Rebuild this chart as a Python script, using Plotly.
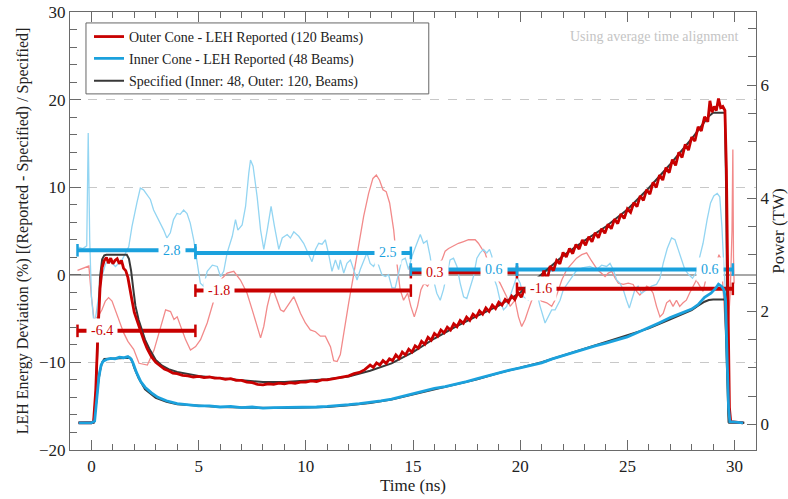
import plotly.graph_objects as go

# ---------------- data ----------------
# Outer cone specified power (TW)
t_outer_spec = [-0.6, 0.1, 0.2, 0.3, 0.4, 0.5, 0.6, 0.7, 1.65, 1.75, 1.85, 1.95, 2.05, 2.2, 2.35, 2.5, 2.7,
                3.0, 3.3, 3.6, 4.0, 4.5, 5.0, 6.0, 7.0, 8.0, 9.0, 10.0, 11.0, 12.0, 13.0, 14.0, 15.0, 16.0,
                17.0, 18.0, 19.0, 20.0, 21.0, 22.0, 23.0, 24.0, 25.0, 26.0, 27.0, 28.0, 28.5, 28.8, 29.0,
                29.55, 29.6, 29.65, 29.7, 29.75, 30.45]
p_outer_spec = [0.03, 0.03, 0.5, 1.7, 2.6, 2.92, 2.99, 3.0, 3.0, 2.93, 2.72, 2.4, 2.1, 1.85, 1.66, 1.5, 1.34,
                1.14, 1.04, 0.98, 0.93, 0.89, 0.86, 0.82, 0.78, 0.75, 0.75, 0.77, 0.8, 0.85, 0.95, 1.08, 1.28, 1.52,
                1.73, 1.92, 2.1, 2.33, 2.66, 2.98, 3.25, 3.5, 3.8, 4.18, 4.6, 5.05, 5.3, 5.45, 5.51,
                5.51, 4.3, 2.0, 0.4, 0.03, 0.03]

# Inner cone specified power (TW)
t_inner_spec = [-0.6, 0.1, 0.2, 0.3, 0.4, 0.5, 0.6, 1.8, 1.9, 2.0, 2.2, 2.5, 3.0, 3.5, 4.0, 5.0, 6.0, 7.0, 8.0,
                9.0, 10.0, 11.0, 12.0, 13.0, 14.0, 15.0, 16.0, 17.0, 18.0, 19.0, 20.0, 21.0, 22.0, 23.0, 24.0,
                25.0, 26.0, 27.0, 27.5, 28.0, 28.3, 28.6, 28.8, 29.0, 29.55, 29.6, 29.65, 29.72, 30.45]
p_inner_spec = [0.03, 0.04, 0.3, 0.7, 0.95, 1.1, 1.16, 1.18, 1.12, 1.0, 0.82, 0.62, 0.47, 0.4, 0.36, 0.33, 0.31,
                0.3, 0.29, 0.29, 0.3, 0.31, 0.34, 0.38, 0.44, 0.53, 0.63, 0.71, 0.8, 0.91, 1.0, 1.1, 1.22, 1.34,
                1.45, 1.57, 1.7, 1.86, 1.94, 2.02, 2.1, 2.17, 2.2, 2.21, 2.21, 1.6, 0.6, 0.05, 0.03]

# Outer cone LEH reported power (TW)
t_outer_rep = [-0.6, 0.0, 0.1, 0.2, 0.3, 0.4, 0.5, 0.6, 0.7, 0.8, 0.9, 1.0, 1.1, 1.2, 1.3, 1.4, 1.5, 1.6, 1.7,
               1.8, 1.9, 2.0, 2.15, 2.3, 2.45, 2.6, 2.8, 3.0, 3.2, 3.4, 3.6, 3.8, 4.0, 4.25, 4.5, 4.75, 5.0, 5.25,
               5.5, 5.75, 6.0, 6.25, 6.5, 6.75, 7.0, 7.25, 7.5, 7.75, 8.0, 8.25, 8.5, 8.75, 9.0, 9.25, 9.5, 9.75,
               10.0, 10.25, 10.5, 10.75, 11.0, 11.25, 11.5, 11.75, 12.0, 12.25, 12.5, 12.75,
               13.0, 13.15, 13.3, 13.45, 13.6, 13.75, 13.9, 14.05, 14.2, 14.35, 14.5, 14.65, 14.8, 14.95,
               15.1, 15.25, 15.4, 15.55, 15.7, 15.85, 16.0, 16.15, 16.3, 16.45, 16.6, 16.75, 16.9, 17.05,
               17.2, 17.35, 17.5, 17.65, 17.8, 17.95, 18.1, 18.25, 18.4, 18.55, 18.7, 18.85, 19.0, 19.15,
               19.3, 19.45, 19.6, 19.75, 19.9, 20.05, 20.2, 20.35, 20.5, 20.65, 20.8, 20.95, 21.1, 21.25,
               21.4, 21.55, 21.7, 21.85, 22.0, 22.15, 22.3, 22.45, 22.6, 22.75, 22.9, 23.05, 23.2, 23.35,
               23.5, 23.65, 23.8, 23.95, 24.1, 24.25, 24.4, 24.55, 24.7, 24.85, 25.0, 25.15, 25.3, 25.45,
               25.6, 25.75, 25.9, 26.05, 26.2, 26.35, 26.5, 26.65, 26.8, 26.95, 27.1, 27.25, 27.4, 27.55,
               27.7, 27.85, 28.0, 28.15, 28.3, 28.45, 28.6, 28.75, 28.85, 28.95, 29.05, 29.15, 29.25, 29.35,
               29.45, 29.55, 29.62, 29.7, 29.76, 29.82, 30.4]
p_outer_rep = [0.03, 0.03, 0.05, 0.6, 1.6, 2.4, 2.78, 2.9, 2.95, 2.85, 2.94, 2.84, 2.9, 2.93, 2.84, 2.9, 2.76,
               2.72, 2.6, 2.42, 2.18, 1.98, 1.8, 1.62, 1.48, 1.34, 1.2, 1.1, 1.04, 0.98, 0.95, 0.91, 0.9, 0.87,
               0.86, 0.84, 0.85, 0.83, 0.84, 0.82, 0.82, 0.8, 0.81, 0.78, 0.78, 0.75, 0.74, 0.71, 0.7, 0.72,
               0.71, 0.73, 0.72, 0.74, 0.73, 0.75, 0.75, 0.77, 0.76, 0.79, 0.79, 0.81, 0.82, 0.85, 0.86, 0.9,
               0.92, 0.97,
               1.05, 1.01, 1.09, 1.05, 1.13, 1.08, 1.16, 1.13, 1.23, 1.17, 1.28, 1.23, 1.33, 1.28,
               1.39, 1.35, 1.47, 1.42, 1.54, 1.49, 1.61, 1.56, 1.67, 1.62, 1.72, 1.67, 1.78, 1.73,
               1.84, 1.79, 1.90, 1.84, 1.95, 1.90, 2.01, 1.95, 2.06, 2.00, 2.11, 2.05, 2.16, 2.11,
               2.21, 2.16, 2.27, 2.21, 2.33, 2.25, 2.39, 2.30, 2.45, 2.37, 2.40, 2.45, 2.72, 2.55,
               2.80, 2.72, 2.90, 2.84, 3.04, 2.96, 3.11, 3.02, 3.18, 3.10, 3.26, 3.17, 3.32, 3.23,
               3.39, 3.30, 3.46, 3.38, 3.54, 3.46, 3.63, 3.55, 3.72, 3.64, 3.81, 3.75, 3.92, 3.85,
               4.04, 3.96, 4.15, 4.07, 4.28, 4.19, 4.41, 4.32, 4.54, 4.45, 4.68, 4.58, 4.81, 4.72,
               4.95, 4.85, 5.08, 5.01, 5.26, 5.19, 5.44, 5.35, 5.72, 5.52, 5.62, 5.55, 5.76, 5.60,
               5.62, 5.55, 4.5, 2.0, 0.3, 0.05, 0.03]

# Inner cone LEH reported power (TW)
t_inner_rep = [-0.6, 0.0, 0.15, 0.25, 0.35, 0.45, 0.55, 0.7, 0.9, 1.1, 1.3, 1.5, 1.7, 1.85, 1.95, 2.1, 2.3, 2.5,
               2.8, 3.1, 3.5, 4.0, 4.5, 5.0, 5.5, 6.0, 6.5, 7.0, 7.5, 8.0, 8.5, 9.0, 9.5, 10.0, 10.5, 11.0,
               11.5, 12.0, 12.5, 13.0, 13.5, 14.0, 14.5, 15.0, 15.5, 16.0, 16.5, 17.0, 17.5, 18.0, 18.5, 19.0,
               19.5, 20.0, 20.5, 21.0, 21.5, 22.0, 22.5, 23.0, 23.5, 24.0, 24.5, 25.0, 25.5, 26.0, 26.5, 27.0,
               27.5, 28.0, 28.3, 28.6, 28.9, 29.1, 29.25, 29.4, 29.5, 29.58, 29.65, 29.72, 29.78, 30.4]
p_inner_rep = [0.03, 0.03, 0.06, 0.45, 0.85, 1.05, 1.12, 1.15, 1.17, 1.16, 1.19, 1.18, 1.2, 1.16, 1.08, 0.92,
               0.76, 0.66, 0.56, 0.48, 0.42, 0.37, 0.35, 0.33, 0.33, 0.31, 0.32, 0.30, 0.31, 0.29, 0.30, 0.30,
               0.30, 0.31, 0.31, 0.32, 0.33, 0.35, 0.37, 0.39, 0.42, 0.45, 0.50, 0.54, 0.59, 0.64, 0.67, 0.71,
               0.76, 0.81, 0.86, 0.92, 0.96, 1.0, 1.05, 1.09, 1.16, 1.22, 1.28, 1.34, 1.39, 1.44, 1.50, 1.55,
               1.63, 1.71, 1.80, 1.89, 1.96, 2.04, 2.12, 2.25, 2.32, 2.40, 2.48, 2.44, 2.38, 2.2, 1.2, 0.3,
               0.05, 0.03]

# Outer cone energy deviation (%)
t_outer_dev = [-0.65, -0.3, -0.12, 0.0, 0.12, 0.3, 0.49, 0.65, 0.8, 0.96, 1.12, 1.3, 1.5, 1.7, 1.97, 2.22,
               2.61, 2.92, 3.23, 3.46, 3.69, 3.85, 4.0, 4.16, 4.39, 4.62, 4.86, 5.09, 5.4, 5.71, 6.02, 6.33,
               6.64, 6.95, 7.26, 7.5, 7.73, 7.89, 8.04, 8.2, 8.35, 8.51, 8.66, 8.82, 8.97, 9.13, 9.28, 9.44,
               9.59, 9.75, 9.98, 10.21, 10.45, 10.68, 10.91, 11.15, 11.3, 11.46, 11.61, 11.77, 12.0, 12.23,
               12.46, 12.7, 12.93, 13.13, 13.29, 13.44, 13.6, 13.75, 13.91, 14.1, 14.25, 14.4, 14.56, 14.75,
               14.9, 15.06, 15.21, 15.37, 15.52, 15.68, 15.83, 16.04, 16.19, 16.35, 16.5, 16.66, 16.89, 17.12,
               17.36, 17.59, 17.9, 18.05, 18.21, 18.36, 18.52, 18.75, 19.06, 19.37, 19.53, 19.76, 19.92, 20.07,
               20.23, 20.38, 20.54, 20.77, 21.0, 21.24, 21.47, 21.62, 21.78, 21.94, 22.17, 22.4, 22.63, 22.87,
               23.1, 23.3, 23.6, 23.96, 24.11, 24.27, 24.43, 24.58, 24.81, 25.04, 25.27, 25.43, 25.58, 25.74,
               25.9, 26.05, 26.2, 26.36, 26.52, 26.67, 26.83, 26.98, 27.13, 27.29, 27.44, 27.6, 27.75, 27.9,
               28.07, 28.22, 28.38, 28.53, 28.69, 28.84, 28.99, 29.15, 29.27, 29.38, 29.46, 29.54, 29.62,
               29.7, 29.8, 29.88, 29.92, 29.95, 29.98]
v_outer_dev = [0.5, 0.8, 1.0, -2.5, -5.1, -4.8, -4.0, -3.0, -2.6, -3.0, -4.0, -5.3, -6.6, -7.6, -8.5, -10.1,
               -10.3, -8.6, -5.9, -4.0, -4.2, -5.1, -4.8, -5.9, -7.4, -8.6, -8.2, -7.4, -5.5, -2.9, -0.6, 0.2,
               0.4, -0.6, -2.1, -4.0, -5.9, -7.2, -5.9, -3.6, -2.1, -1.9, -2.9, -4.0, -4.2, -3.6, -3.0, -2.5,
               -3.4, -4.4, -5.5, -6.3, -6.5, -7.0, -7.0, -8.2, -9.8, -9.9, -9.1, -6.5, -3.2, 0.0,
               3.2, 6.7, 9.3, 11.0, 11.4, 10.8, 9.7, 9.5, 8.2, 5.1, 1.3, -1.7, -2.9, -2.1,
               -3.6, -4.8, -3.6, -1.7, -0.95, -1.3, -0.6, 0.6, 1.3, 1.7, 2.7, 3.0, 3.3, 3.6,
               3.8, 4.0, 4.0, 3.6, 3.0, 2.5, 1.3, 0.3, -0.95, -2.5, -3.6, -2.9, -4.8, -5.9,
               -5.1, -4.0, -2.9, -2.5, -3.0, -3.2, -3.6, -2.9, -1.7, -0.6, 0.6, 1.3, 1.9, 2.3,
               2.5, 1.7, 0.6, -0.2, 0.2, 0.4, -0.4, -0.95, -1.1, -0.95, -1.1, -1.9, -2.3, -1.9,
               -1.3, -1.5, -2.1, -3.6, -4.8, -4.4, -3.2, -2.9, -3.6, -2.9, -3.6, -3.2, -2.9, -2.1,
               -1.3, -0.6, -1.3, -1.9, -0.2, 0.6, -0.2, 1.3, 2.3, 1.7, -1.3, -5.1, -7.8,
               -5.9, -2.0, 5.0, 14.3, 2.0, -1.0]

# Inner cone energy deviation (%)
t_inner_dev = [-0.65, -0.4, -0.22, -0.15, -0.08, 0.0, 0.1, 0.18, 0.3, 0.49, 0.65, 0.81, 1.12, 1.43, 1.74, 1.89,
               2.12, 2.28, 2.43, 2.59, 2.75, 2.9, 3.13, 3.37, 3.52, 3.68, 3.83, 3.99, 4.14, 4.3, 4.46, 4.61,
               4.77, 4.92, 5.08, 5.23, 5.4, 5.64, 5.87, 6.02, 6.17, 6.33, 6.57, 6.72, 6.83, 7.03, 7.19, 7.34,
               7.42, 7.54, 7.73, 7.89, 8.04, 8.2, 8.38, 8.54, 8.74, 8.9, 9.13, 9.28, 9.44, 9.67, 9.9, 10.14,
               10.29, 10.45, 10.6, 10.76, 10.91, 11.07, 11.22, 11.38, 11.53, 11.61, 11.77, 11.92, 12.08, 12.23,
               12.39, 12.54, 12.7, 12.85, 13.0, 13.16, 13.31, 13.55, 13.71, 13.86, 14.02, 14.17, 14.33, 14.48,
               14.64, 14.79, 14.95, 15.18, 15.34, 15.49, 15.65, 15.8, 15.96, 16.11, 16.27, 16.42, 16.58, 16.73,
               16.89, 17.05, 17.2, 17.36, 17.51, 17.67, 17.82, 17.98, 18.13, 18.29, 18.44, 18.57, 18.68, 18.75,
               18.91, 19.06, 19.22, 19.37, 19.53, 19.68, 19.84, 20.0, 20.15, 20.38, 20.54, 20.7, 20.93, 21.16,
               21.32, 21.47, 21.63, 21.86, 22.01, 22.3, 22.6, 22.9, 23.25, 23.57, 23.8, 24.03, 24.19, 24.34,
               24.5, 24.65, 24.81, 24.96, 25.09, 25.2, 25.35, 25.5, 25.66, 25.9, 26.13, 26.36, 26.52, 26.67,
               26.86, 27.06, 27.22, 27.37, 27.53, 27.68, 27.87, 28.04, 28.19, 28.35, 28.53, 28.72, 28.88,
               29.03, 29.19, 29.31, 29.41, 29.5, 29.6, 29.68]
v_inner_dev = [3.2, 3.0, 3.3, 16.2, 4.0, -2.5, -5.1, -5.1, -3.0, -0.2, 1.2, 1.7, 0.95, 1.7, 3.2, 5.5,
               8.2, 9.9, 9.7, 9.1, 8.6, 7.4, 6.3, 5.1, 4.2, 4.8, 6.3, 7.0, 6.9, 7.4, 7.0, 5.9,
               4.0, 1.7, -0.95, -1.3, 0.4, 1.1, 0.95, -0.2, 0.4, 2.5, 4.4, 6.3, 5.1, 5.7, 7.8, 11.6,
               13.1, 12.4, 8.9, 5.1, 2.9, 5.1, 7.8, 5.5, 2.9, 4.2, 4.6, 4.2, 4.9, 4.4, 3.6, 2.3,
               1.5, 2.9, 3.6, 3.5, 4.0, 2.3, 0.4, 1.7, 0.6, 1.7, 0.2, 1.3, 1.7, 0.6,
               -0.6, 0.6, 1.7, 2.5, 1.3, 0.95, 1.7, 0.0, -0.2, 0.0, -1.5, -1.5, 0.2, 1.7,
               1.9, 0.6, 2.1, 3.6, 4.6, 3.6, 3.9, 2.1, -0.6, -2.1, -2.9, -1.7, 0.2, 1.7,
               1.9, 0.95, -0.95, -2.5, -2.7, -1.3, -0.2, 1.9, 2.5, 2.9, 2.5, 2.9, 2.1, -0.2,
               -1.3, -2.9, -4.0, -3.6, -2.5, -1.3, -0.2, -0.95, -2.5, -2.9, -0.95, -1.3, -3.6, -5.5,
               -4.8, -4.0, -4.0, -2.9, -1.7, -0.6, 0.4, 0.8, 0.95, 0.6, 1.1, 0.95, 1.3, 0.6,
               -0.6, -0.95, -1.7, -2.9, -3.8, -2.9, -1.7, -1.3, -2.1, -1.7, -1.3, -1.1, -0.4, 1.3,
               3.0, 4.2, 4.0, 2.9, 1.7, 0.6, 0.0, -0.4, 0.2, 1.7, 3.6, 6.3, 8.2,
               9.0, 9.3, 8.9, 5.5, 0.95, -2.9, -4.5]

# Average deviation over time windows (%)
window_edges = [-0.65, 4.85, 14.9, 19.85, 29.92]
outer_avg = [-6.4, -1.8, 0.3, -1.6]
inner_avg = [2.8, 2.5, 0.6, 0.6]

# ---------------- styles ----------------
RED = "#c80000"
RED_LIGHT = "#f28a8a"
BLUE = "#1ba1dd"
BLUE_LIGHT = "#93d5f2"
BLACK = "#383838"
FONT = "Liberation Serif"

fig = go.Figure()

# thin deviation curves (left axis)
fig.add_trace(go.Scatter(x=t_outer_dev, y=v_outer_dev, mode="lines", line=dict(color=RED_LIGHT, width=1.3),
                         showlegend=False, hoverinfo="skip"))
fig.add_trace(go.Scatter(x=t_inner_dev, y=v_inner_dev, mode="lines", line=dict(color=BLUE_LIGHT, width=1.3),
                         showlegend=False, hoverinfo="skip"))

# power curves (right axis)
fig.add_trace(go.Scatter(x=t_outer_spec, y=p_outer_spec, yaxis="y2", mode="lines",
                         line=dict(color=BLACK, width=2), name="Specified (Inner: 48, Outer: 120, Beams)",
                         legend="legend3"))
fig.add_trace(go.Scatter(x=t_inner_spec, y=p_inner_spec, yaxis="y2", mode="lines",
                         line=dict(color=BLACK, width=2), showlegend=False))
fig.add_trace(go.Scatter(x=t_outer_rep, y=p_outer_rep, yaxis="y2", mode="lines",
                         line=dict(color=RED, width=2.8), name="Outer Cone - LEH Reported (120 Beams)",
                         legend="legend"))
fig.add_trace(go.Scatter(x=t_inner_rep, y=p_inner_rep, yaxis="y2", mode="lines",
                         line=dict(color=BLUE, width=2.8), name="Inner Cone - LEH Reported (48 Beams)",
                         legend="legend2"))

# average bars with end caps and labels
annotations = []
for avgs, col, side in ((outer_avg, RED, "start"), (inner_avg, BLUE, "end")):
    for i, v in enumerate(avgs):
        s, e = window_edges[i], window_edges[i + 1]
        fig.add_trace(go.Scatter(x=[s, e], y=[v, v], mode="lines+markers",
                                 line=dict(color=col, width=4),
                                 marker=dict(symbol="line-ns", size=9, line=dict(color=col, width=2.5)),
                                 showlegend=False, hoverinfo="skip"))
        lx = s + 1.12 if side == "start" else e - 1.07
        annotations.append(dict(x=lx, y=v, xref="x", yref="y", text=f"{v:.1f}", showarrow=False,
                                font=dict(family=FONT, size=14, color=col), bgcolor="white", borderpad=4,
                                xanchor="center", yanchor="middle"))

annotations.append(dict(x=0.977, y=0.944, xref="paper", yref="paper", text="Using average time alignment",
                        showarrow=False, xanchor="right", yanchor="middle",
                        font=dict(family=FONT, size=14, color="#c4c4c4")))

axis_common = dict(showline=True, linecolor="#6a6a6a", linewidth=1.2, ticks="inside",
                   tickcolor="#6a6a6a", tickfont=dict(family=FONT, size=17, color="#222"))

legend_common = dict(x=0.0277, xanchor="left", yanchor="middle", bgcolor="rgba(0,0,0,0)",
                     borderwidth=0, font=dict(family=FONT, size=14, color="#222"))

fig.update_layout(
    width=788, height=499,
    margin=dict(l=70, r=32, t=12, b=49, autoexpand=False),
    paper_bgcolor="white", plot_bgcolor="white",
    font=dict(family=FONT, color="#222"),
    annotations=annotations,
    shapes=[dict(type="rect", xref="paper", yref="paper", x0=0.0233, x1=0.523, y0=0.813, y1=0.975,
                 line=dict(color="#666", width=1), fillcolor="white", layer="above")],
    legend=dict(y=0.943, **legend_common),
    legend2=dict(y=0.893, **legend_common),
    legend3=dict(y=0.842, **legend_common),
    xaxis=dict(range=[-1, 31], tickvals=[0, 5, 10, 15, 20, 25, 30], ticklen=10, mirror="ticks",
               minor=dict(dtick=1, ticklen=6, tickcolor="#6a6a6a", ticks="inside"),
               showgrid=False, zeroline=False,
               title=dict(text="Time (ns)", font=dict(family=FONT, size=17, color="#222"), standoff=4),
               **axis_common),
    yaxis=dict(range=[-20, 30], tickvals=[-20, -10, 0, 10, 20, 30], ticklen=11,
               minor=dict(dtick=2, ticklen=7, tickcolor="#6a6a6a", ticks="inside"),
               showgrid=True, gridcolor="#c8c8c8", griddash="dash", gridwidth=1,
               zeroline=True, zerolinecolor="#a8a8a8", zerolinewidth=1.5,
               title=dict(text="LEH Energy Deviation (%) [(Reported - Specified) / Specified]",
                          font=dict(family=FONT, size=16, color="#222"), standoff=6),
               **axis_common),
    yaxis2=dict(range=[-0.45, 7.29], overlaying="y", side="right", tickvals=[0, 2, 4, 6], ticklen=9,
                minor=dict(dtick=0.5, ticklen=8, tickcolor="#6a6a6a", ticks="inside"),
                showgrid=False, zeroline=False,
                title=dict(text="Power (TW)", font=dict(family=FONT, size=17, color="#222"), standoff=6),
                **axis_common),
)

fig.write_html("out.html")
